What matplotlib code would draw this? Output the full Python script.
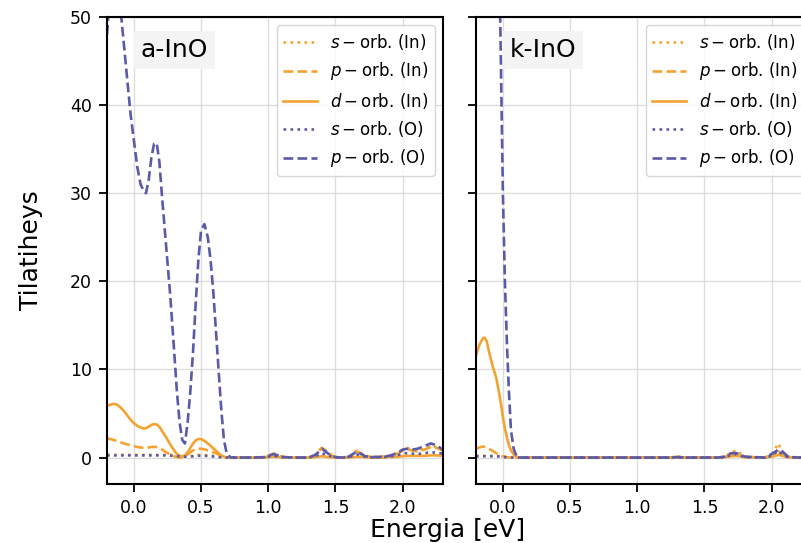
import matplotlib
matplotlib.use("Agg")
import matplotlib.pyplot as plt

ORANGE = "#f4a332"
BLUE = "#5a5aa8"

# ---- a-InO ----
a_x = [-0.2, -0.175, -0.15, -0.125, -0.1, -0.075, -0.05, -0.025, 0.0, 0.025, 0.05, 0.075,
       0.09, 0.11, 0.13, 0.15, 0.17, 0.19, 0.21, 0.24, 0.27, 0.3, 0.32, 0.34, 0.36, 0.38,
       0.4, 0.42, 0.44, 0.46, 0.48, 0.5, 0.525, 0.55, 0.57, 0.59, 0.61, 0.63, 0.65, 0.67,
       0.69, 0.72, 0.8, 0.9, 0.97, 1.0, 1.04, 1.08, 1.12, 1.2, 1.3, 1.35, 1.4, 1.45, 1.5,
       1.55, 1.6, 1.66, 1.72, 1.78, 1.85, 1.9, 1.96, 2.0, 2.03, 2.07, 2.11, 2.16, 2.21,
       2.25, 2.3]
a_s_in = [0.3, 0.3, 0.3, 0.3, 0.3, 0.3, 0.3, 0.3, 0.3, 0.3, 0.3, 0.3,
          0.3, 0.3, 0.3, 0.3, 0.3, 0.3, 0.3, 0.3, 0.3, 0.3, 0.25, 0.2, 0.15, 0.1,
          0.1, 0.15, 0.2, 0.25, 0.3, 0.3, 0.3, 0.25, 0.2, 0.2, 0.15, 0.1, 0.05, 0.0,
          0.0, 0.0, 0.0, 0.0, 0.05, 0.2, 0.4, 0.2, 0.05, 0.0, 0.0, 0.3, 1.2, 0.5, 0.05,
          0.0, 0.1, 0.8, 0.2, 0.05, 0.1, 0.2, 0.5, 0.9, 1.1, 0.9, 0.8, 1.0, 1.3,
          1.2, 0.9]
a_p_in = [2.2, 2.1, 2.0, 1.85, 1.75, 1.6, 1.5, 1.4, 1.3, 1.2, 1.15, 1.1,
          1.1, 1.15, 1.2, 1.2, 1.2, 1.1, 0.9, 0.6, 0.35, 0.15, 0.05, 0.0, 0.05, 0.15,
          0.35, 0.6, 0.8, 0.95, 1.0, 1.0, 0.95, 0.8, 0.7, 0.6, 0.5, 0.35, 0.2, 0.08,
          0.02, 0.0, 0.0, 0.0, 0.05, 0.2, 0.45, 0.2, 0.05, 0.0, 0.0, 0.3, 1.1, 0.4, 0.05,
          0.0, 0.1, 0.7, 0.15, 0.05, 0.1, 0.15, 0.4, 0.8, 1.0, 0.8, 0.7, 0.9, 1.2,
          1.1, 0.8]
a_d_in = [5.9, 6.0, 6.1, 6.0, 5.7, 5.3, 4.8, 4.3, 3.9, 3.6, 3.4, 3.3,
          3.35, 3.5, 3.7, 3.8, 3.75, 3.5, 3.0, 2.3, 1.5, 0.8, 0.4, 0.2, 0.15, 0.25,
          0.6, 1.1, 1.6, 1.95, 2.1, 2.1, 1.9, 1.6, 1.35, 1.05, 0.8, 0.5, 0.25, 0.1,
          0.02, 0.0, 0.0, 0.0, 0.0, 0.05, 0.1, 0.05, 0.0, 0.0, 0.0, 0.05, 0.15, 0.05, 0.0,
          0.0, 0.0, 0.1, 0.05, 0.0, 0.0, 0.05, 0.1, 0.15, 0.2, 0.2, 0.2, 0.2, 0.25,
          0.25, 0.2]
a_s_o = [0.25, 0.25, 0.25, 0.25, 0.25, 0.25, 0.25, 0.25, 0.25, 0.25, 0.25, 0.25,
         0.25, 0.25, 0.25, 0.25, 0.25, 0.25, 0.25, 0.25, 0.22, 0.2, 0.18, 0.15, 0.12, 0.1,
         0.1, 0.12, 0.15, 0.18, 0.2, 0.2, 0.2, 0.18, 0.15, 0.12, 0.1, 0.06, 0.03, 0.0,
         0.0, 0.0, 0.0, 0.0, 0.02, 0.1, 0.2, 0.1, 0.02, 0.0, 0.0, 0.15, 0.5, 0.2, 0.02,
         0.0, 0.05, 0.35, 0.1, 0.02, 0.05, 0.1, 0.25, 0.45, 0.5, 0.45, 0.4, 0.5, 0.6,
         0.55, 0.45]
a_p_o = [48.0, 53.0, 56.0, 55.0, 51.0, 47.0, 43.0, 39.0, 36.0, 33.0, 31.0, 30.2,
         30.0, 31.5, 34.0, 35.6, 35.7, 33.5, 29.5, 24.0, 18.5, 12.0, 7.5, 4.0, 2.0, 1.6,
         4.0, 7.5, 12.0, 17.5, 22.5, 25.8, 26.5, 25.0, 22.5, 19.0, 14.5, 10.0, 5.5, 2.0,
         0.5, 0.0, 0.0, 0.0, 0.05, 0.2, 0.4, 0.2, 0.05, 0.0, 0.0, 0.3, 1.0, 0.4, 0.05,
         0.0, 0.1, 0.7, 0.15, 0.05, 0.1, 0.2, 0.5, 0.9, 1.0, 0.9, 1.0, 1.3, 1.6,
         1.4, 0.9]

# ---- k-InO ----
k_x = [-0.2, -0.175, -0.15, -0.135, -0.12, -0.1, -0.075, -0.05, -0.03, -0.02, -0.01, 0.0,
       0.015, 0.03, 0.045, 0.06, 0.08, 0.095, 0.12, 0.2, 0.5, 1.0, 1.25, 1.3, 1.35, 1.6,
       1.65, 1.7, 1.74, 1.8, 1.95, 2.0, 2.05, 2.08, 2.12, 2.2, 2.3]
k_s_in = [0.2, 0.2, 0.2, 0.2, 0.2, 0.2, 0.2, 0.2, 0.18, 0.15, 0.12, 0.1,
          0.08, 0.05, 0.03, 0.02, 0.0, 0.0, 0.0, 0.0, 0.0, 0.0, 0.0, 0.15, 0.0, 0.0,
          0.1, 0.6, 0.8, 0.1, 0.0, 0.4, 1.6, 0.6, 0.1, 0.0, 0.0]
k_p_in = [1.0, 1.15, 1.25, 1.2, 1.1, 0.95, 0.75, 0.5, 0.35, 0.28, 0.2, 0.15,
          0.08, 0.04, 0.02, 0.01, 0.0, 0.0, 0.0, 0.0, 0.0, 0.0, 0.0, 0.1, 0.0, 0.0,
          0.05, 0.3, 0.4, 0.05, 0.0, 0.2, 0.7, 0.3, 0.05, 0.0, 0.0]
k_d_in = [11.6, 12.8, 13.5, 13.6, 13.2, 11.8, 10.3, 9.1, 7.5, 6.6, 5.7, 4.6,
          3.3, 2.3, 1.4, 0.8, 0.35, 0.15, 0.0, 0.0, 0.0, 0.0, 0.0, 0.0, 0.0, 0.0,
          0.05, 0.15, 0.2, 0.05, 0.0, 0.1, 0.3, 0.2, 0.05, 0.0, 0.0]
k_s_o = [0.15, 0.15, 0.15, 0.15, 0.15, 0.15, 0.15, 0.15, 0.12, 0.1, 0.08, 0.06,
         0.05, 0.03, 0.02, 0.01, 0.0, 0.0, 0.0, 0.0, 0.0, 0.0, 0.0, 0.05, 0.0, 0.0,
         0.05, 0.3, 0.4, 0.05, 0.0, 0.2, 0.8, 0.3, 0.05, 0.0, 0.0]
k_p_o = [95.0, 95.0, 95.0, 95.0, 95.0, 95.0, 90.0, 80.0, 62.0, 50.0, 40.0, 30.0,
         20.0, 13.0, 7.5, 3.1, 1.0, 0.4, 0.0, 0.0, 0.0, 0.0, 0.0, 0.05, 0.0, 0.0,
         0.1, 0.5, 0.5, 0.1, 0.0, 0.4, 0.9, 0.7, 0.1, 0.0, 0.0]

labels = [r"$s-$orb. (In)", r"$p-$orb. (In)", r"$d-$orb. (In)",
          r"$s-$orb. (O)", r"$p-$orb. (O)"]
styles = [(ORANGE, ":"), (ORANGE, "--"), (ORANGE, "-"), (BLUE, ":"), (BLUE, "--")]

fig = plt.figure(figsize=(8.01, 5.43), dpi=100)
ax1 = fig.add_axes([107 / 801, 59 / 543, 336 / 801, 467 / 543])
ax2 = fig.add_axes([476 / 801, 59 / 543, 336 / 801, 467 / 543], sharey=ax1)

panels = [
    (ax1, a_x, [a_s_in, a_p_in, a_d_in, a_s_o, a_p_o], "a-InO"),
    (ax2, k_x, [k_s_in, k_p_in, k_d_in, k_s_o, k_p_o], "k-InO"),
]
for ax, x, series, name in panels:
    for ys, (c, ls), lab in zip(series, styles, labels):
        ax.plot(x, ys, color=c, linestyle=ls, linewidth=1.9, label=lab)
    ax.set_xlim(-0.2, 2.3)
    ax.set_ylim(-3, 50)
    ax.set_xticks([0.0, 0.5, 1.0, 1.5, 2.0])
    ax.set_yticks([0, 10, 20, 30, 40, 50])
    ax.grid(True, color="#dddddd", linewidth=1)
    ax.tick_params(labelsize=12.5, width=1.3, length=6, pad=5)
    for sp in ax.spines.values():
        sp.set_linewidth(1.5)
    ax.text(0.1, 0.955, name, transform=ax.transAxes, fontsize=18, va="top", ha="left",
            bbox=dict(facecolor="#f4f4f4", edgecolor="none", pad=5))
    ax.legend(loc="upper right", fontsize=12, framealpha=0.8)

ax2.tick_params(labelleft=False)
ax1.set_ylabel("Tilatiheys", fontsize=18, labelpad=19)
fig.text(448 / 801, 0.002, "Energia [eV]", fontsize=18, ha="center", va="bottom")

fig.savefig("out.png", dpi=100)
